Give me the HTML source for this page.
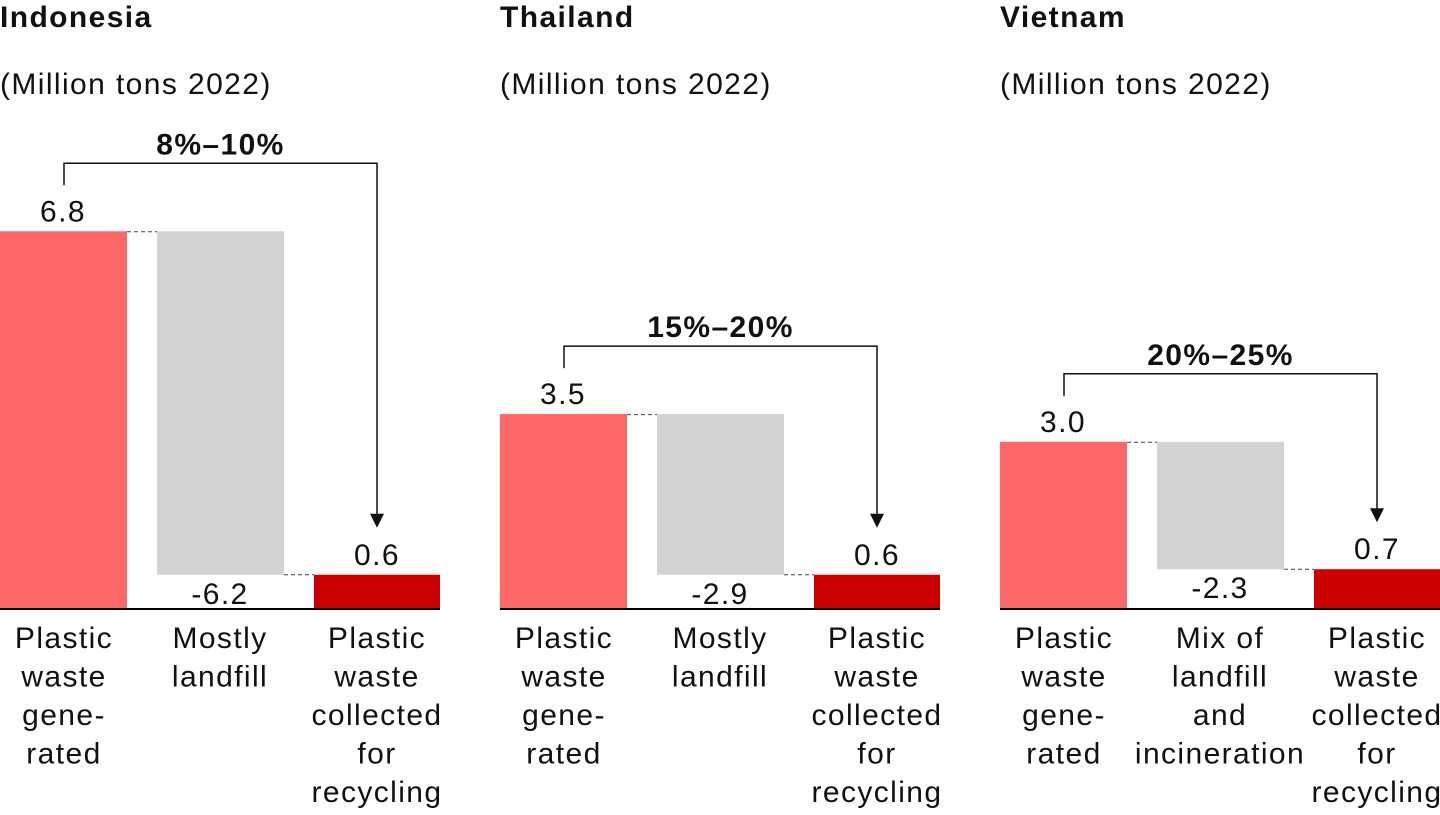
<!DOCTYPE html>
<html><head><meta charset="utf-8"><style>
html,body{margin:0;padding:0;background:#fff;}
body{width:1440px;height:810px;overflow:hidden;font-family:"Liberation Sans",sans-serif;}
</style></head><body>
<svg id="chart" width="1440" height="810" xmlns="http://www.w3.org/2000/svg"></svg>
<script>
const countries = ["Indonesia","Thailand","Vietnam"];
const generated = [6.8,3.5,3.0];
const disposed = [-6.2,-2.9,-2.3];
const recycled = [0.6,0.6,0.7];
const shares = ["8%–10%","15%–20%","20%–25%"];
const midLabels = [["Mostly","landfill"],["Mostly","landfill"],["Mix of","landfill","and","incineration"]];
const genLabel = ["Plastic","waste","gene-","rated"];
const recLabel = ["Plastic","waste","collected","for","recycling"];

const NS="http://www.w3.org/2000/svg";
const svg=document.getElementById('chart');
const baseY=608, scale=55.4;
const y=v=>baseY-v*scale;
function el(tag,attrs,parent){const e=document.createElementNS(NS,tag);for(const k in attrs)e.setAttribute(k,attrs[k]);(parent||svg).appendChild(e);return e;}
function txt(s,x,yy,opts,parent){const t=el('text',Object.assign({x:x,y:yy,'font-size':30,'letter-spacing':1.4,fill:'#111','font-family':'Liberation Sans, sans-serif'},opts||{}),parent);t.textContent=s;return t;}
countries.forEach((c,i)=>{
  const g=el('g',{});
  
  
  const ox=i*500;
  const t=txt(c,ox,27,{'font-weight':'bold'},g);
  
  
  const st=txt('(Million tons 2022)',ox,94,{},g);
  
  
  const b1x=ox,b2x=ox+157,b3x=ox+314,bw=127;
  const topG=y(generated[i]), topR=y(recycled[i]);
  const r1=el('rect',{x:b1x,y:topG,width:bw,height:baseY-topG,fill:'#ff6666'},g);
  
  
  const grayBottom=y(generated[i]+disposed[i]);
  const r2=el('rect',{x:b2x,y:topG,width:bw,height:grayBottom-topG,fill:'#d3d3d3'},g);
  
  
  const r3=el('rect',{x:b3x,y:topR,width:126,height:baseY-topR,fill:'#cc0000'},g);
  
  
  el('line',{x1:b1x+bw,y1:topG+0.5,x2:b2x,y2:topG+0.5,stroke:'#444','stroke-dasharray':'4,3','stroke-width':1},g);
  el('line',{x1:b2x+bw,y1:grayBottom,x2:b3x,y2:grayBottom,stroke:'#444','stroke-dasharray':'4,3','stroke-width':1},g);
  const ax=el('line',{x1:ox,y1:baseY+1,x2:ox+440,y2:baseY+1,stroke:'#000','stroke-width':2},g);
  
  
  const v1=txt(generated[i].toFixed(1),b1x+63,topG-10,{'text-anchor':'middle'},g);
  
  
  const v2=txt(disposed[i].toFixed(1),b2x+63,grayBottom+29,{'text-anchor':'middle'},g);
  
  
  const v3=txt(recycled[i].toFixed(1),b3x+63,topR-10,{'text-anchor':'middle'},g);
  
  
  const lx=b1x+64, rx=b3x+63;
  const by=topG-68, ly=topG-46, tip=topR-47;
  const p=el('path',{d:`M${lx},${ly} V${by} H${rx} V${tip-12}`,fill:'none',stroke:'#111','stroke-width':1.5},g);
  
  
  el('path',{d:`M${rx-7},${tip-14} L${rx},${tip} L${rx+7},${tip-14} Z`,fill:'#111'},g);
  const sl=txt(shares[i],(lx+rx)/2,by-9,{'text-anchor':'middle','font-weight':'bold'},g);
  
  
  [[genLabel,b1x+64],[midLabels[i],b2x+63],[recLabel,b3x+63]].forEach(([lines,cx])=>{
    lines.forEach((s,k)=>{
      const tl=txt(s,cx,648+k*38.5,{'text-anchor':'middle'},g);
      
      
    });
  });
});
</script>
</body></html>
